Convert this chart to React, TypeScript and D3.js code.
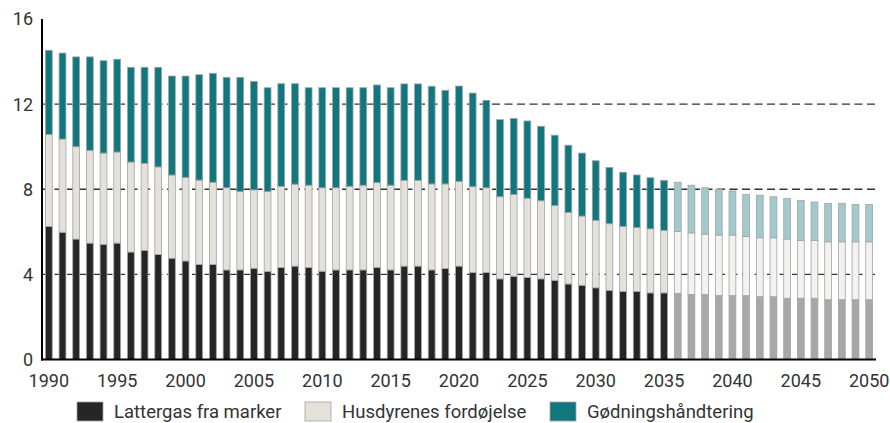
import React from "react";
import * as d3 from "d3";

const years = d3.range(1990, 2051);

const lattergas = [
  6.26, 5.98, 5.66, 5.47, 5.41, 5.47, 5.05, 5.13, 4.94, 4.76,
  4.63, 4.46, 4.46, 4.21, 4.21, 4.29, 4.14, 4.32, 4.39, 4.33,
  4.15, 4.21, 4.21, 4.21, 4.33, 4.21, 4.39, 4.39, 4.21, 4.28,
  4.39, 4.09, 4.09, 3.79, 3.91, 3.85, 3.79, 3.72, 3.55, 3.49,
  3.37, 3.25, 3.2, 3.2, 3.13, 3.13, 3.11, 3.06, 3.06, 3.0,
  3.0, 3.0, 2.95, 2.95, 2.88, 2.88, 2.88, 2.81, 2.81, 2.81,
  2.81,
];

const husdyr = [
  4.32, 4.38, 4.34, 4.36, 4.29, 4.28, 4.23, 4.09, 4.11, 3.91,
  3.93, 3.97, 3.87, 3.86, 3.68, 3.68, 3.75, 3.82, 3.85, 3.86,
  3.92, 3.86, 3.93, 3.98, 3.98, 3.98, 4.03, 4.03, 4.04, 3.97,
  3.98, 4.03, 3.98, 3.86, 3.85, 3.73, 3.67, 3.51, 3.36, 3.25,
  3.17, 3.13, 3.05, 3.0, 3.01, 2.94, 2.91, 2.89, 2.83, 2.85,
  2.85, 2.78, 2.77, 2.77, 2.78, 2.71, 2.71, 2.72, 2.72, 2.72,
  2.72,
];

const goedning = [
  3.95, 4.04, 4.22, 4.39, 4.34, 4.36, 4.45, 4.51, 4.68, 4.65,
  4.76, 4.95, 5.12, 5.19, 5.37, 5.1, 4.88, 4.82, 4.72, 4.58,
  4.7, 4.7, 4.63, 4.58, 4.59, 4.58, 4.53, 4.53, 4.59, 4.4,
  4.48, 4.4, 4.11, 3.62, 3.57, 3.63, 3.5, 3.31, 3.16, 2.96,
  2.8, 2.65, 2.55, 2.47, 2.4, 2.35, 2.31, 2.24, 2.18, 2.15,
  2.07, 1.98, 2.0, 1.93, 1.91, 1.89, 1.81, 1.81, 1.81, 1.76,
  1.76,
];

const firstProjection = 2036;
const yTicks = [0, 4, 8, 12, 16];
const gridValues = [4, 8, 12];
const xTickYears = [1990, 1995, 2000, 2005, 2010, 2015, 2020, 2025, 2030, 2035, 2040, 2045, 2050];

const keys = ["lattergas", "husdyr", "goedning"];
const labels = ["Lattergas fra marker", "Husdyrenes fordøjelse", "Gødningshåndtering"];
const colors: Record<string, string> = {
  lattergas: "#262626",
  husdyr: "#e4e1db",
  goedning: "#10777f",
};
const projColors: Record<string, string> = {
  lattergas: "#a8a8a8",
  husdyr: "#f3f2ef",
  goedning: "#a2c9cd",
};

const width = 890;
const height = 423;
const left = 42;
const right = 876;
const top = 19;
const bottom = 359.5;
const font = "Roboto, 'Noto Sans', sans-serif";

export default function App() {
  const rows = years.map((year, i) => ({
    year,
    lattergas: lattergas[i],
    husdyr: husdyr[i],
    goedning: goedning[i],
  }));
  const layers = d3.stack<any>().keys(keys)(rows);

  const x = d3
    .scaleBand<number>()
    .domain(years)
    .range([left, right])
    .paddingInner(0.5)
    .paddingOuter(0.25);
  const y = d3.scaleLinear().domain([0, 16]).range([bottom, top]);

  const legendX = [77, 305, 550];

  return (
    <svg
      width={width}
      height={height}
      style={{ position: "absolute", left: 0, top: 0, background: "#fff" }}
      fontFamily={font}
    >
      {gridValues.map((v) => (
        <line
          key={v}
          x1={left}
          x2={right}
          y1={y(v)}
          y2={y(v)}
          stroke="#333"
          strokeWidth={1.3}
          strokeDasharray="8 4.5"
        />
      ))}

      {layers.map((layer) => (
        <g key={layer.key}>
          {layer.map((d: any) => {
            const proj = d.data.year >= firstProjection;
            return (
              <rect
                key={d.data.year}
                x={x(d.data.year)}
                width={x.bandwidth()}
                y={y(d[1])}
                height={y(d[0]) - y(d[1])}
                fill={proj ? projColors[layer.key] : colors[layer.key]}
                stroke="#a3a3a3"
                strokeWidth={0.8}
              />
            );
          })}
        </g>
      ))}

      <line x1={left} x2={left} y1={top} y2={bottom + 1} stroke="#000" strokeWidth={2} />
      <line x1={left - 1} x2={right} y1={bottom} y2={bottom} stroke="#000" strokeWidth={2} />

      {yTicks.map((v) => (
        <text
          key={v}
          x={33}
          y={y(v)}
          dy="0.36em"
          textAnchor="end"
          fontSize={18}
          fill="#333"
        >
          {v}
        </text>
      ))}

      {xTickYears.map((yr) => (
        <text
          key={yr}
          x={(x(yr) as number) + x.bandwidth() / 2}
          y={387}
          textAnchor="middle"
          fontSize={18}
          fill="#333"
        >
          {yr}
        </text>
      ))}

      {keys.map((k, i) => (
        <g key={k} transform={`translate(${legendX[i]},402)`}>
          <rect width={26} height={19} fill={colors[k]} stroke="#a3a3a3" strokeWidth={0.8} />
          <text x={37} y={16} fontSize={18.5} fill="#333">
            {labels[i]}
          </text>
        </g>
      ))}
    </svg>
  );
}
